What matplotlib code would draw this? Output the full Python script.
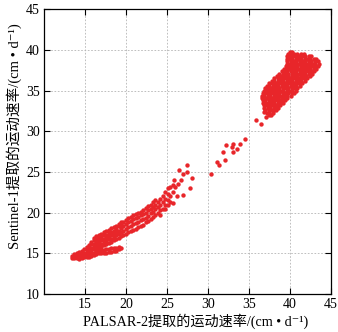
import matplotlib
matplotlib.use("Agg")
import matplotlib.pyplot as plt

# ---------------- data ----------------
# lower band: columns of x with their y values
band_cols = [
    (13.4, [14.4, 14.7]),
    (13.7, [14.4, 14.7, 14.9]),
    (14.0, [14.4, 14.7, 15.0]),
    (14.3, [14.3, 14.6, 14.9, 15.2]),
    (14.6, [14.4, 14.7, 15.0, 15.3]),
    (14.9, [14.5, 14.8, 15.1, 15.5]),
    (15.2, [14.5, 14.8, 15.1, 15.4, 15.8]),
    (15.5, [14.6, 14.9, 15.3, 15.6, 16.0]),
    (15.8, [14.7, 15.0, 15.4, 15.7, 16.1, 16.4]),
    (16.1, [14.8, 15.1, 15.5, 15.9, 16.2, 16.6, 16.9]),
    (16.4, [14.9, 15.3, 15.7, 16.0, 16.4, 16.8, 17.1]),
    (16.7, [15.0, 15.4, 15.8, 16.2, 16.5, 16.9, 17.3]),
    (17.0, [15.0, 15.4, 15.8, 16.2, 16.6, 17.0, 17.4]),
    (17.3, [15.0, 15.4, 16.0, 16.4, 16.8, 17.2, 17.6]),
    (17.6, [15.1, 15.5, 16.1, 16.5, 16.9, 17.3, 17.8]),
    (17.9, [15.2, 15.5, 16.3, 16.7, 17.1, 17.5, 17.9]),
    (18.2, [15.2, 15.6, 16.4, 16.8, 17.2, 17.6, 18.1]),
    (18.5, [15.3, 15.7, 16.6, 17.0, 17.4, 17.8, 18.2]),
    (18.8, [15.3, 15.7, 16.8, 17.2, 17.6, 18.0, 18.4]),
    (19.1, [15.5, 15.8, 16.9, 17.4, 17.8, 18.3, 18.6]),
    (19.4, [15.6, 17.1, 17.6, 18.1, 18.5, 18.8]),
    (19.7, [17.2, 17.8, 18.3, 18.9]),
    (20.0, [17.4, 18.0, 18.6, 19.1]),
    (20.3, [17.6, 18.2, 18.9, 19.3]),
    (20.6, [17.7, 18.4, 19.0, 19.5]),
    (20.9, [17.9, 18.6, 19.2, 19.7]),
    (21.2, [18.0, 18.7, 19.3, 19.8]),
    (21.5, [18.2, 18.9, 19.5, 20.0]),
    (21.8, [18.4, 19.1, 19.7, 20.1]),
    (22.1, [18.5, 19.2, 19.8, 20.3]),
    (22.4, [18.8, 19.4, 20.0, 20.6]),
    (22.7, [19.0, 19.6, 20.3, 20.8]),
    (23.0, [19.2, 19.9, 20.5, 21.0]),
    (23.3, [19.5, 20.1, 20.7, 21.3]),
    (23.6, [19.7, 20.4, 21.0, 21.6]),
    (23.9, [20.0, 20.7, 21.3]),
    (24.2, [19.7, 20.3, 21.0, 21.7]),
    (24.5, [20.5, 21.3, 22.1]),
    (24.8, [20.4, 21.0, 21.7, 22.5]),
    (25.1, [20.9, 21.6, 22.3, 23.0]),
    (25.4, [21.3, 22.1, 23.1]),
    (25.7, [21.2, 22.5, 23.4]),
]

# sparse points between the two clusters
sparse_x = [26.2, 26.9, 27.8, 25.9, 26.7, 28.1, 27.0, 27.5, 26.5, 27.4, 26.0, 26.4,
            30.4, 31.1, 31.4, 32.1, 31.8, 33.0, 32.2, 33.5, 32.9, 33.1, 33.9, 34.5]
sparse_y = [22.0, 22.2, 23.0, 24.0, 24.0, 24.3, 24.7, 25.0, 25.2, 25.9, 23.2, 23.5,
            24.8, 26.2, 25.8, 26.5, 27.4, 27.4, 28.3, 27.8, 28.1, 28.5, 28.5, 29.0]

# upper cluster: rows of y with their x values
cluster_rows = [
    (39.8, [40.0, 40.3]),
    (39.5, [39.8, 40.1, 40.5, 40.9, 41.3, 41.7]),
    (39.2, [39.7, 40.0, 40.4, 40.8, 41.1, 41.5, 41.9, 42.3, 42.6]),
    (38.9, [39.6, 40.0, 40.3, 40.7, 41.0, 41.4, 41.8, 42.1, 42.5, 42.9, 43.2]),
    (38.6, [39.7, 40.1, 40.4, 40.8, 41.2, 41.5, 41.9, 42.3, 42.6, 43.0, 43.4]),
    (38.3, [39.6, 39.9, 40.3, 40.6, 41.0, 41.4, 41.7, 42.1, 42.4, 42.8, 43.1, 43.5]),
    (38.0, [39.5, 39.9, 40.2, 40.6, 40.9, 41.3, 41.6, 42.0, 42.3, 42.7, 43.0, 43.4]),
    (37.7, [39.3, 39.7, 40.0, 40.4, 40.7, 41.1, 41.5, 41.8, 42.2, 42.5, 42.9, 43.2]),
    (37.4, [39.0, 39.4, 39.7, 40.1, 40.5, 40.8, 41.2, 41.5, 41.9, 42.2, 42.6, 42.9]),
    (37.1, [38.7, 39.1, 39.4, 39.8, 40.2, 40.5, 40.9, 41.2, 41.6, 41.9, 42.3, 42.7]),
    (36.8, [38.4, 38.8, 39.1, 39.5, 39.8, 40.2, 40.6, 40.9, 41.3, 41.6, 42.0, 42.4]),
    (36.5, [38.1, 38.5, 38.8, 39.2, 39.5, 39.9, 40.3, 40.6, 41.0, 41.3, 41.7, 42.1]),
    (36.2, [37.8, 38.1, 38.5, 38.9, 39.2, 39.6, 40.0, 40.3, 40.7, 41.0, 41.4, 41.8]),
    (35.9, [37.5, 37.8, 38.2, 38.6, 38.9, 39.3, 39.7, 40.0, 40.4, 40.7, 41.1, 41.5]),
    (35.6, [37.2, 37.5, 37.9, 38.3, 38.6, 39.0, 39.4, 39.7, 40.1, 40.4, 40.8, 41.2]),
    (35.3, [37.0, 37.3, 37.7, 38.0, 38.4, 38.7, 39.1, 39.5, 39.8, 40.2, 40.5, 40.9]),
    (35.0, [36.8, 37.1, 37.5, 37.8, 38.2, 38.5, 38.9, 39.2, 39.6, 39.9, 40.3, 40.7]),
    (34.7, [36.7, 37.0, 37.3, 37.7, 38.0, 38.4, 38.7, 39.1, 39.4, 39.8, 40.2, 40.5]),
    (34.4, [36.6, 36.9, 37.3, 37.6, 38.0, 38.3, 38.7, 39.0, 39.4, 39.7, 40.1]),
    (34.1, [36.6, 36.9, 37.2, 37.6, 37.9, 38.3, 38.6, 39.0, 39.3, 39.7]),
    (33.8, [36.7, 37.0, 37.4, 37.7, 38.1, 38.4, 38.8, 39.1, 39.4]),
    (33.5, [36.7, 37.1, 37.4, 37.8, 38.1, 38.5, 38.8, 39.1]),
    (33.2, [36.8, 37.1, 37.5, 37.8, 38.2, 38.5, 38.8]),
    (32.9, [36.9, 37.3, 37.6, 38.0, 38.3, 38.6]),
    (32.6, [37.0, 37.4, 37.7, 38.1, 38.3]),
    (32.3, [37.2, 37.5, 37.9]),
    (32.0, [37.4, 37.7]),
]
outlier_x = [35.9, 36.5, 37.1, 36.9]
outlier_y = [31.4, 30.9, 31.8, 32.4]

x_ticks = [15, 20, 25, 30, 35, 40, 45]
y_ticks = [10, 15, 20, 25, 30, 35, 40, 45]
x_label = "PALSAR-2提取的运动速率/(cm • d\u207b\u00b9)"
y_label = "Sentinel-1提取的运动速率/(cm • d\u207b\u00b9)"

# ---------------- assemble ----------------
xs, ys = [], []
for x, yl in band_cols:
    for y in yl:
        xs.append(x); ys.append(y)
xs += sparse_x; ys += sparse_y
for y, xl in cluster_rows:
    for x in xl:
        xs.append(x); ys.append(y)
xs += outlier_x; ys += outlier_y

fam = ['Liberation Serif', 'Noto Sans CJK SC', 'DejaVu Sans']

fig = plt.figure(figsize=(3.38, 3.32), dpi=100)
ax = fig.add_axes([0.130, 0.1145, 0.849, 0.8575])
ax.scatter(xs, ys, s=10, c='#e8262a', marker='o', linewidths=0, zorder=3)

ax.set_xlim(10, 45)
ax.set_ylim(10, 45)
ax.set_xticks(x_ticks)
ax.set_yticks(y_ticks)
ax.grid(True, color='#b4b4b4', linestyle=(0, (2, 2)), linewidth=0.6)
ax.tick_params(direction='in', top=True, right=True, length=4, width=0.8,
               labelsize=10, pad=3)
for lbl in ax.get_xticklabels() + ax.get_yticklabels():
    lbl.set_fontfamily(fam)
for sp in ax.spines.values():
    sp.set_linewidth(0.9)
ax.set_xlabel(x_label, fontsize=10.2, family=fam)
ax.set_ylabel(y_label, fontsize=10.5, family=fam)
ax.xaxis.set_label_coords(0.528, -0.067)
ax.yaxis.set_label_coords(-0.077, 0.553)

fig.savefig('out.png', dpi=100)
